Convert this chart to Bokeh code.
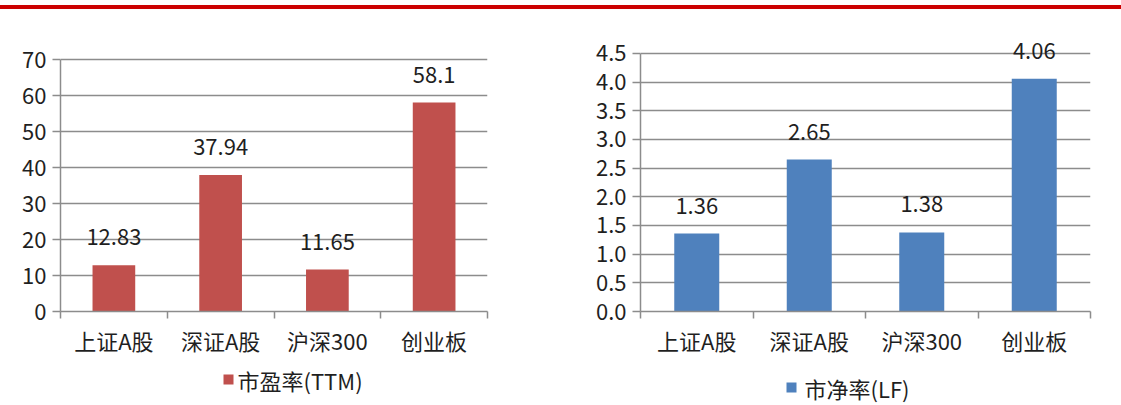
from bokeh.plotting import figure
from bokeh.models import (Range1d, FixedTicker, Div, ColumnDataSource, LabelSet)
from bokeh.layouts import column, row
from bokeh.embed import file_html
from bokeh.resources import INLINE
from bokeh.core.properties import value

categories = ["上证A股", "深证A股", "沪深300", "创业板"]
pe_ttm = [12.83, 37.94, 11.65, 58.1]
pb_lf = [1.36, 2.65, 1.38, 4.06]
pe_labels = ["12.83", "37.94", "11.65", "58.1"]
pb_labels = ["1.36", "2.65", "1.38", "4.06"]
pe_ticks = [0, 10, 20, 30, 40, 50, 60, 70]
pe_tick_labels = ["0", "10", "20", "30", "40", "50", "60", "70"]
pb_ticks = [0.0, 0.5, 1.0, 1.5, 2.0, 2.5, 3.0, 3.5, 4.0, 4.5]
pb_tick_labels = ["0.0", "0.5", "1.0", "1.5", "2.0", "2.5", "3.0", "3.5", "4.0", "4.5"]
series_names = ["市盈率(TTM)", "市净率(LF)"]

FONT = "Noto Sans CJK SC"
TXT = "#1f1f1f"
GRID = "#8c8c8c"
RED = "#C0504D"
BLUE = "#4F81BD"


def make_chart(vals, labels, ticks, tick_labels, ytop, color,
               width, height, bl, br, bt, bb):
    n = len(categories)
    xs = list(range(1, n + 1))
    src = ColumnDataSource(dict(x=xs, y=vals, lbl=labels))
    p = figure(width=width, height=height,
               x_range=Range1d(0.5, n + 0.5),
               y_range=Range1d(ticks[0], ytop),
               output_backend="svg", toolbar_location=None,
               min_border_left=bl, min_border_right=br,
               min_border_top=bt, min_border_bottom=bb)
    p.outline_line_color = None
    p.background_fill_color = "white"
    p.vbar(x="x", top="y", width=0.4, source=src, fill_color=color,
           line_color=None)
    p.add_layout(LabelSet(x="x", y="y", text="lbl", source=src,
                          text_align="center", text_baseline="middle",
                          y_offset=28, text_font=value(FONT),
                          text_font_size=value("22px"),
                          text_color=value(TXT)))
    # x axis
    xa = p.xaxis[0]
    xa.ticker = FixedTicker(ticks=xs, minor_ticks=[i + 0.5 for i in range(0, n + 1)])
    xa.major_label_overrides = {x: c for x, c in zip(xs, categories)}
    xa.major_tick_out = 0
    xa.major_tick_in = 0
    xa.minor_tick_out = 7
    xa.minor_tick_in = 0
    xa.minor_tick_line_color = GRID
    xa.minor_tick_line_width = 1.5
    xa.axis_line_color = GRID
    xa.axis_line_width = 1.5
    xa.major_label_text_font = FONT
    xa.major_label_text_font_size = "22px"
    xa.major_label_text_color = TXT
    xa.major_label_standoff = 5
    # y axis
    ya = p.yaxis[0]
    ya.ticker = FixedTicker(ticks=ticks, minor_ticks=[])
    ya.major_label_overrides = {t: l for t, l in zip(ticks, tick_labels)}
    ya.bounds = (ticks[0], ticks[-1])
    ya.major_tick_out = 8
    ya.major_tick_in = 0
    ya.major_tick_line_color = GRID
    ya.major_tick_line_width = 1.5
    ya.axis_line_color = GRID
    ya.axis_line_width = 1.5
    ya.major_label_text_font = FONT
    ya.major_label_text_font_size = "22px"
    ya.major_label_text_color = TXT
    ya.major_label_standoff = 6
    # grid
    p.xgrid.grid_line_color = None
    p.ygrid.grid_line_color = GRID
    p.ygrid.grid_line_width = 1.5
    p.ygrid.ticker = FixedTicker(ticks=ticks, minor_ticks=[])
    return p


p1 = make_chart(pe_ttm, pe_labels, pe_ticks, pe_tick_labels, 78.12,
                RED, 548, 354, 60, 61, 21, 52)
p2 = make_chart(pb_lf, pb_labels, pb_ticks, pb_tick_labels, 4.901,
                BLUE, 573, 354, 92, 31, 21, 52)

# legend strip in pixel units (1 unit = 1 px), spanning both charts
LW, LH = 1121, 42
lf = figure(width=LW, height=LH, x_range=Range1d(0, LW),
            y_range=Range1d(0, LH), x_axis_location=None,
            y_axis_location=None, output_backend="svg",
            toolbar_location=None, min_border=0)
lf.outline_line_color = None
lf.grid.visible = False
leg_src = ColumnDataSource(dict(sx=[228, 791], sy=[26, 18],
                                tx=[237, 804], lbl=series_names,
                                col=[RED, BLUE]))
lf.rect(x="sx", y="sy", width=10, height=10, fill_color="col",
        line_color=None, source=leg_src)
lf.text(x="tx", y="sy", text="lbl", text_align="left",
        text_baseline="middle", text_font=value(FONT),
        text_font_size="22px", text_color=TXT, source=leg_src)

bar = Div(text="", width=1121, height=4, margin=(5, 0, 0, 0),
          styles={"background-color": "#CC0000"})
layout = column(bar, row(p1, p2), lf)

open("out.html", "w").write(file_html(layout, INLINE))
